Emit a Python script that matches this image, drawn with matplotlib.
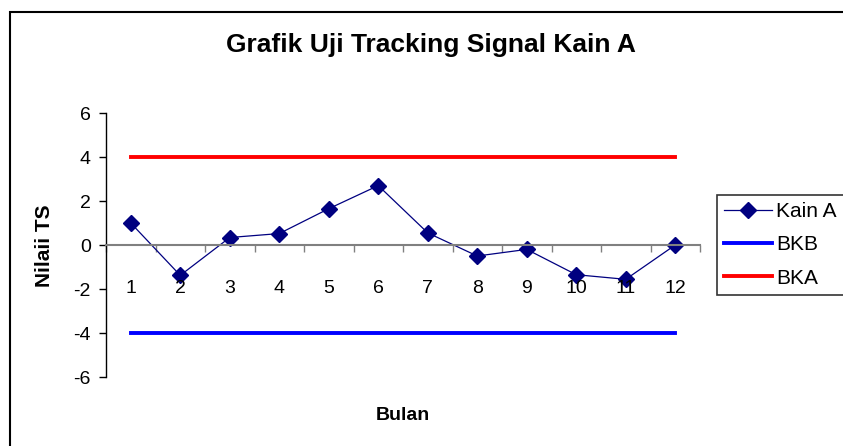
import matplotlib.pyplot as plt
from matplotlib.patches import Rectangle
import numpy as np

plt.rcParams['font.family'] = ['Liberation Sans', 'DejaVu Sans']
plt.rcParams['axes.unicode_minus'] = False

# Data
bulan = [1, 2, 3, 4, 5, 6, 7, 8, 9, 10, 11, 12]
kain_a = [1.0, -1.38, 0.34, 0.52, 1.65, 2.7, 0.55, -0.5, -0.2, -1.35, -1.56, 0.0]
bkb = [-4] * 12
bka = [4] * 12

fig = plt.figure(figsize=(8.43, 4.46), dpi=100)
ax = fig.add_axes([106/843, 69/446, 594/843, 264/446])

# outer chart border (cropped at right and bottom in the original)
fig.patches.append(Rectangle((10/843, -0.1), 1.0, (446-12)/446 + 0.1,
                             transform=fig.transFigure, fill=False,
                             edgecolor='black', linewidth=1.5))

ax.plot(bulan, kain_a, color='#000080', linewidth=0.9, marker='D',
        markersize=8.5, label='Kain A')
ax.plot(bulan, bkb, color='#0000FF', linewidth=2.8, label='BKB')
ax.plot(bulan, bka, color='#FF0000', linewidth=2.8, label='BKA')

ax.set_xlim(0.5, 12.5)
ax.set_ylim(-6, 6)
ax.set_yticks(np.arange(-6, 7, 2))
ax.tick_params(axis='y', labelsize=14, direction='out', length=5, width=1, pad=6)

# category axis crossing at 0
ax.spines['bottom'].set_position(('data', 0))
ax.spines['bottom'].set_color('#808080')
ax.spines['bottom'].set_linewidth(1.5)
ax.spines['top'].set_visible(False)
ax.spines['right'].set_visible(False)
ax.spines['left'].set_linewidth(1)
ax.set_xticks(np.arange(0.5, 13, 1))
ax.set_xticklabels([])
ax.tick_params(axis='x', direction='out', length=5, width=1, color='#808080')
for b in bulan:
    ax.annotate(str(b), (b, 0), xytext=(0, -31), textcoords='offset points',
                ha='center', va='center', fontsize=14)

fig.text(431/843, 1 - 45/446, 'Grafik Uji Tracking Signal Kain A',
         ha='center', va='center', fontsize=19, fontweight='bold')
fig.text(403/843, 1 - 415/446, 'Bulan', ha='center', va='center',
         fontsize=14, fontweight='bold')
fig.text(45/843, 1 - 246/446, 'Nilaii TS', ha='center', va='center',
         rotation=90, fontsize=15, fontweight='bold')

leg = fig.legend(loc='upper left', bbox_to_anchor=(717/843, 1 - 195/446),
                 fontsize=15, frameon=True, fancybox=False, edgecolor='black',
                 handlelength=2.3, handletextpad=0.2, borderpad=0.35,
                 labelspacing=0.68, borderaxespad=0)
leg.get_frame().set_linewidth(1.2)

fig.savefig('out.png', dpi=100)
